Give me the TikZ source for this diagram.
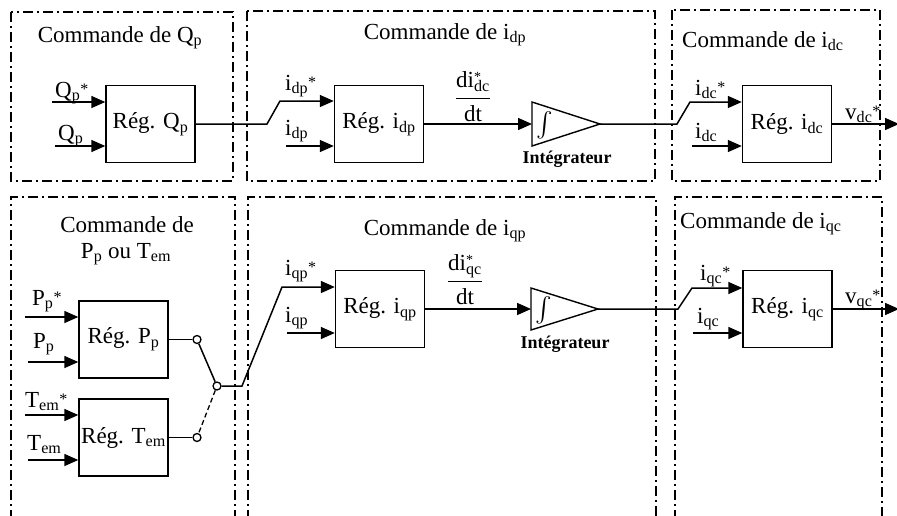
\documentclass[tikz,border=0pt]{standalone}
\usepackage{amsmath}
\usepackage{fontspec}
\setmainfont{Liberation Serif}
\usetikzlibrary{arrows.meta}
\newcommand\sstar{\raisebox{0.1em}{\fontsize{16}{16}\selectfont *}}
\begin{document}
\begin{tikzpicture}[x=1pt,y=-1pt,
  font=\fontsize{23}{26}\selectfont,
  frame/.style={line width=1.3pt, dash pattern=on 10pt off 4pt on 2pt off 4pt},
  blk/.style={draw, line width=1.4pt, minimum width=89pt, minimum height=77pt, inner sep=0pt},
  sig/.style={line width=1.5pt},
  arr/.style={sig, -{Triangle[length=14pt,width=12pt]}},
  lab/.style={anchor=base west, inner sep=0pt},
  ttl/.style={anchor=base, inner sep=0pt},
  sw/.style={circle, draw, fill=white, line width=1.3pt, minimum size=8pt, inner sep=0pt},
  integ/.style={line width=1.4pt},
  intsym/.style={font=\fontsize{27}{30}\selectfont, inner sep=0pt},
  intlab/.style={font=\fontsize{18}{20}\selectfont\bfseries, inner sep=0pt},
]
\useasboundingbox (0,0) rectangle (897,515);
\clip (0,0) rectangle (897,515);

% ---------- frames ----------
\draw[frame] (11,12) rectangle (233,181);
\draw[frame] (247,11) rectangle (655,181);
\draw[frame] (672,10) rectangle (880,181);
\draw[frame] (11,540) -- (11,197) -- (235,197) -- (235,540);
\draw[frame] (248,540) -- (248,197) -- (656,197) -- (656,540);
\draw[frame] (675,540) -- (675,197) -- (882,197) -- (882,540);

% ---------- titles ----------
\node[ttl] (t1) at (120,42) {Commande de Q\textsubscript{p}};
\node[ttl] (t2) at (445,39) {Commande de i\textsubscript{dp}};
\node[ttl, anchor=base west] (t3) at (682,47) {Commande de i\textsubscript{dc}};
\node[ttl] (t4a) at (127,232) {Commande de};
\node[ttl] (t4b) at (126,258) {P\textsubscript{p} ou T\textsubscript{em}};
\node[ttl] (t5) at (445,235) {Commande de i\textsubscript{qp}};
\node[ttl, anchor=base west] (t6) at (680,228) {Commande de i\textsubscript{qc}};

% ---------- top row ----------
\node[blk] (qbox) at (150.5,124) {Rég. Q\textsubscript{p}};
\node[blk] (dpbox) at (379,124) {Rég. i\textsubscript{dp}};
\node[blk] (dcbox) at (787,124) {Rég. i\textsubscript{dc}};

\coordinate (qin1) at (52,102);
\coordinate (qin2) at (55,146);
\draw[arr] (qin1) -- (qin1 -| qbox.west);
\draw[arr] (qin2) -- (qin2 -| qbox.west);
\node[lab] (lq1) at (55,97) {Q\textsubscript{p}\sstar};
\node[lab] (lq2) at (58,140) {Q\textsubscript{p}};

\coordinate (k1) at (267,124);
\coordinate (k2) at (280,101);
\draw[arr] (qbox.east) -- (k1) -- (k2) -- (k2 -| dpbox.west);
\coordinate (dpin2) at (286,146);
\draw[arr] (dpin2) -- (dpin2 -| dpbox.west);
\node[lab] (ldp1) at (285,90) {i\textsubscript{dp}\sstar};
\node[lab] (ldp2) at (285,135) {i\textsubscript{dp}};

\coordinate (ta1) at (532,102);
\coordinate (tb1) at (532,146);
\coordinate (tc1) at (600,124);
\draw[integ] (ta1) -- (tc1) -- (tb1) -- cycle;
\node[intsym] (int1) at (545,125) {$\int$};
\node[intlab] (il1) at (567,159) {Intégrateur};
\draw[arr] (dpbox.east) -- (dpbox.east -| ta1);
\node[inner sep=0pt] (fr1) at (473,97) {$\displaystyle\frac{\mbox{di\rlap{\raisebox{0.3em}{\fontsize{14}{14}\selectfont *}}\textsubscript{dc}}}{\mbox{dt}}$};

\coordinate (k5) at (677,124);
\coordinate (k6) at (690,102);
\draw[arr] (tc1) -- (k5) -- (k6) -- (k6 -| dcbox.west);
\coordinate (dcin2) at (692,146);
\draw[arr] (dcin2) -- (dcin2 -| dcbox.west);
\node[lab] (ldc1) at (695,95) {i\textsubscript{dc}\sstar};
\node[lab] (ldc2) at (695,138) {i\textsubscript{dc}};
\coordinate (dcout) at (899,124);
\draw[arr] (dcbox.east) -- (dcout);
\node[lab] (lvdc) at (845,119) {v\textsubscript{dc}\sstar};

% ---------- bottom row ----------
\node[blk] (ppbox) at (123.5,339.5) {Rég. P\textsubscript{p}};
\node[blk] (tebox) at (123.5,437.5) {Rég. T\textsubscript{em}};
\node[blk] (qpbox) at (380,309) {Rég. i\textsubscript{qp}};
\node[blk] (qcbox) at (787.5,309) {Rég. i\textsubscript{qc}};

\coordinate (pin1) at (25,317);
\coordinate (pin2) at (28,362);
\coordinate (tin1) at (25,415);
\coordinate (tin2) at (28,460);
\draw[arr] (pin1) -- (pin1 -| ppbox.west);
\draw[arr] (pin2) -- (pin2 -| ppbox.west);
\draw[arr] (tin1) -- (tin1 -| tebox.west);
\draw[arr] (tin2) -- (tin2 -| tebox.west);
\node[lab] (lp1) at (32,305) {P\textsubscript{p}\sstar};
\node[lab] (lp2) at (33,348) {P\textsubscript{p}};
\node[lab] (lt1) at (25,407) {T\textsubscript{em}\sstar};
\node[lab] (lt2) at (27,450) {T\textsubscript{em}};

\node[sw] (s1) at (197,339.5) {};
\node[sw] (s2) at (197,437.5) {};
\node[sw] (s0) at (217,386) {};
\draw[sig] (ppbox.east) -- (s1);
\draw[sig] (tebox.east) -- (s2);
\draw[sig] (s1) -- (s0);
\draw[line width=1.3pt, dash pattern=on 5pt off 3pt] (s0) -- (s2);

\coordinate (k3) at (242,386);
\coordinate (k4) at (282,287);
\draw[arr] (s0) -- (k3) -- (k4) -- (k4 -| qpbox.west);
\coordinate (qpin2) at (287,333);
\draw[arr] (qpin2) -- (qpin2 -| qpbox.west);
\node[lab] (lqp1) at (285,275) {i\textsubscript{qp}\sstar};
\node[lab] (lqp2) at (285,322) {i\textsubscript{qp}};

\coordinate (ta2) at (531,288);
\coordinate (tb2) at (531,330);
\coordinate (tc2) at (598,309);
\draw[integ] (ta2) -- (tc2) -- (tb2) -- cycle;
\node[intsym] (int2) at (544,310) {$\int$};
\node[intlab] (il2) at (565,344) {Intégrateur};
\draw[arr] (qpbox.east) -- (qpbox.east -| ta2);
\node[inner sep=0pt] (fr2) at (465,280) {$\displaystyle\frac{\mbox{di\rlap{\raisebox{0.3em}{\fontsize{14}{14}\selectfont *}}\textsubscript{qc}}}{\mbox{dt}}$};

\coordinate (k7) at (678,309);
\coordinate (k8) at (692,288);
\draw[arr] (tc2) -- (k7) -- (k8) -- (k8 -| qcbox.west);
\coordinate (qcin2) at (693,333);
\draw[arr] (qcin2) -- (qcin2 -| qcbox.west);
\node[lab] (lqc1) at (700,280) {i\textsubscript{qc}\sstar};
\node[lab] (lqc2) at (697,323) {i\textsubscript{qc}};
\coordinate (qcout) at (899,309);
\draw[arr] (qcbox.east) -- (qcout);
\node[lab] (lvqc) at (845,303) {v\textsubscript{qc}\sstar};
\end{tikzpicture}
\end{document}
